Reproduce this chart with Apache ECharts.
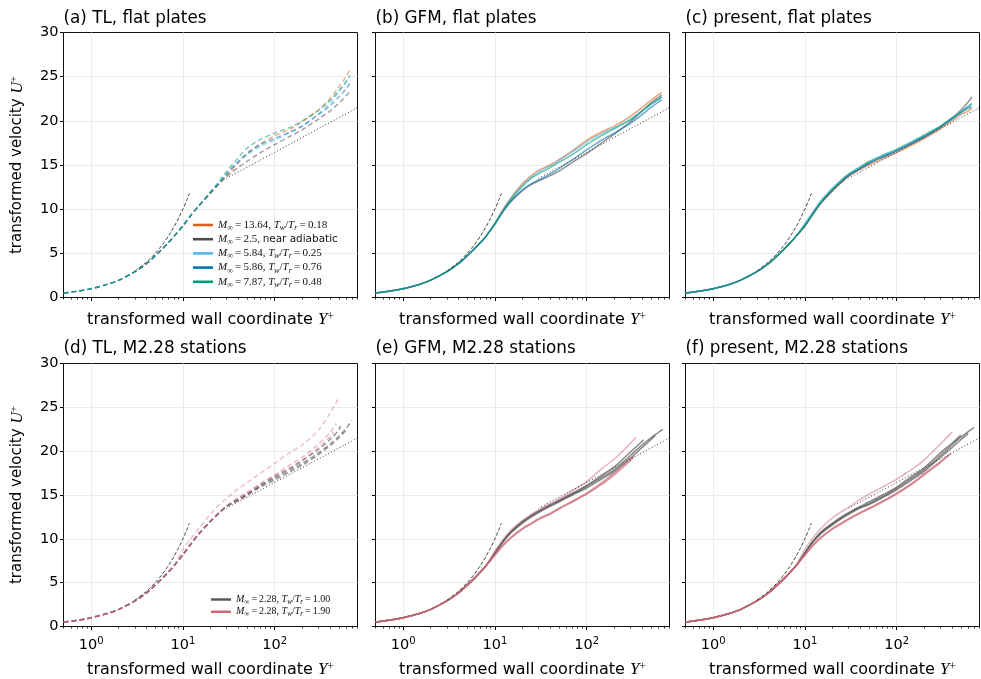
<!DOCTYPE html>
<html>
<head>
<meta charset="utf-8">
<script src="https://cdn.jsdelivr.net/npm/echarts@6/dist/echarts.min.js"></script>
<style>
  html, body { margin: 0; padding: 0; background: #fff; }
  #chart { width: 981px; height: 679px; }
</style>
</head>
<body>
<div id="chart"></div>
<script>
// ---------- profile data: transformed wall coordinate Y+ vs transformed velocity U+ ----------
// viscous sublayer / buffer part shared by all profiles
const innerY = [0.5, 0.7, 1, 1.5, 2, 3, 4, 5, 6, 7, 8];
const innerU = [0.5, 0.7, 1.0, 1.48, 1.96, 2.92, 3.82, 4.72, 5.52, 6.25, 6.92];

// outer sampling stations
const plateY   = [10, 12, 15, 20, 25, 30, 40, 50, 70, 100, 150, 200, 300, 400, 500, 600, 660];
const stationY = [10, 12, 15, 20, 25, 30, 40, 50, 70, 100, 150, 200, 300, 400, 500, 600, 700];

// (a) TL transformation, flat plates
const tlM1364 = [8.1, 9.2, 10.4, 11.8, 12.9, 13.8, 15.2, 16.3, 17.4, 18.3, 19.1, 19.9, 21.2, 22.5, 23.8, 25.0, 25.8];
const tlM25   = [8.1, 9.2, 10.4, 11.8, 12.9, 13.7, 14.7, 15.4, 16.4, 17.3, 18.3, 19.0, 20.2, 21.1, 22.0, 22.8, 23.3];
const tlM584  = [8.1, 9.2, 10.4, 11.9, 13.0, 14.0, 15.3, 16.1, 17.1, 17.8, 18.7, 19.4, 20.8, 22.0, 23.3, 24.5, 25.2];
const tlM586  = [8.1, 9.2, 10.4, 11.9, 13.0, 14.0, 15.4, 16.3, 17.3, 18.0, 18.8, 19.4, 20.7, 21.7, 22.7, 23.6, 24.2];
const tlM787  = [8.1, 9.2, 10.4, 12.0, 13.2, 14.3, 15.8, 16.9, 17.9, 18.6, 19.3, 20.0, 21.2, 22.3, 23.4, 24.4, 25.0];

// (b) GFM transformation, flat plates
const gfmM1364 = [8.4, 9.8, 11.3, 12.9, 13.8, 14.4, 15.0, 15.6, 16.6, 17.8, 18.8, 19.4, 20.5, 21.5, 22.3, 22.9, 23.2];
const gfmM25   = [8.3, 9.6, 10.9, 12.1, 12.8, 13.2, 13.8, 14.3, 15.3, 16.3, 17.6, 18.5, 19.9, 21.1, 22.0, 22.6, 22.9];
const gfmM584  = [8.4, 9.7, 11.2, 12.7, 13.6, 14.2, 14.9, 15.5, 16.5, 17.6, 18.6, 19.2, 20.2, 21.1, 21.8, 22.4, 22.7];
const gfmM586  = [8.3, 9.6, 10.9, 12.2, 12.9, 13.3, 14.0, 14.6, 15.6, 16.7, 17.9, 18.6, 19.7, 20.7, 21.5, 22.1, 22.4];
const gfmM787  = [8.4, 9.7, 11.1, 12.6, 13.5, 14.0, 14.7, 15.3, 16.2, 17.3, 18.4, 19.1, 20.1, 21.1, 21.9, 22.4, 22.7];

// (c) present transformation, flat plates
const prM1364 = [8.1, 9.3, 10.7, 12.1, 13.0, 13.7, 14.5, 15.0, 15.7, 16.4, 17.3, 18.0, 19.1, 20.0, 20.7, 21.1, 21.4];
const prM25   = [8.1, 9.3, 10.7, 12.1, 13.1, 13.8, 14.6, 15.2, 15.9, 16.6, 17.5, 18.2, 19.3, 20.3, 21.2, 22.1, 22.7];
const prM584  = [8.4, 9.6, 11.0, 12.4, 13.3, 13.9, 14.7, 15.3, 16.0, 16.7, 17.6, 18.3, 19.4, 20.3, 21.0, 21.6, 21.9];
const prM586  = [8.2, 9.4, 10.8, 12.2, 13.1, 13.8, 14.6, 15.2, 15.9, 16.6, 17.5, 18.2, 19.3, 20.2, 20.9, 21.4, 21.6];
const prM787  = [8.1, 9.3, 10.8, 12.3, 13.3, 14.0, 14.8, 15.4, 16.1, 16.8, 17.7, 18.4, 19.4, 20.3, 21.0, 21.6, 22.0];

// (d) TL transformation, M2.28 stations (Tw/Tr = 1.00 grey, 1.90 pink)
const tlCold1 = [8.2, 9.3, 10.6, 12.0, 13.0, 13.7, 14.4, 15.0, 16.0, 16.9, 17.9, 18.6, 19.8, 20.8, 21.7, 22.6, 23.5];
const tlCold2 = [8.2, 9.3, 10.6, 12.0, 13.0, 13.7, 14.5, 15.1, 16.1, 17.1, 18.1, 18.9, 20.2, 21.3, 22.4];
const tlCold2End = [520, 22.9];
const tlCold3 = [8.2, 9.3, 10.6, 12.0, 13.0, 13.7, 14.4, 15.0, 15.9, 16.7, 17.7, 18.4, 19.6, 20.6, 21.5, 22.4];
const tlHot1 = [8.8, 9.9, 11.2, 12.8, 13.9, 14.6, 15.7, 16.4, 17.5, 18.6, 19.9, 20.7, 22.4, 24.3];
const tlHot1End = [490, 25.9];
const tlHot2 = [8.2, 9.3, 10.6, 12.0, 13.0, 13.8, 14.7, 15.3, 16.3, 17.3, 18.5, 19.3, 20.8, 22.1];
const tlHot2End = [470, 23.1];
const tlHot3 = [8.2, 9.3, 10.6, 12.0, 13.0, 13.7, 14.6, 15.2, 16.2, 17.1, 18.2, 19.0, 20.4, 21.6];
const tlHot3End = [440, 22.2];

// (e) GFM transformation, M2.28 stations
const gfmCold1 = [8.4, 9.6, 10.8, 11.9, 12.6, 13.1, 13.8, 14.3, 15.1, 16.0, 17.1, 17.9, 19.5, 20.7, 21.5, 22.1];
const gfmCold1End = [680, 22.5];
const gfmCold2 = [8.4, 9.6, 10.8, 12.0, 12.7, 13.2, 13.9, 14.4, 15.2, 16.1, 17.3, 18.2, 19.9];
const gfmCold2End = [420, 21.3];
const gfmCold3 = [8.3, 9.5, 10.7, 11.8, 12.5, 13.0, 13.7, 14.2, 15.0, 15.8, 16.9, 17.7, 19.2, 20.4, 21.3];
const gfmCold3End = [560, 21.8];
const gfmHot1 = [8.6, 9.8, 11.0, 12.1, 12.8, 13.3, 14.0, 14.5, 15.5, 16.5, 18.1, 19.1, 20.9];
const gfmHot1End = [345, 21.6];
const gfmHot2 = [8.2, 9.2, 10.2, 11.2, 11.8, 12.3, 12.9, 13.5, 14.3, 15.2, 16.5, 17.5, 19.1];
const gfmHot2End = [330, 19.5];
const gfmHot3 = [8.1, 9.1, 10.1, 11.1, 11.7, 12.2, 12.8, 13.4, 14.2, 15.1, 16.3, 17.3, 18.9];
const gfmHot3End = [320, 19.3];

// (f) present transformation, M2.28 stations
const prCold1 = [8.4, 9.6, 10.7, 11.7, 12.4, 12.9, 13.6, 14.0, 14.8, 15.75, 17.0, 17.9, 19.5, 20.7, 21.6, 22.2, 22.7];
const prCold2 = [8.4, 9.6, 10.8, 11.8, 12.5, 13.0, 13.7, 14.2, 15.0, 15.9, 17.2, 18.1, 19.8, 20.9, 21.8];
const prCold3 = [8.3, 9.5, 10.6, 11.6, 12.3, 12.8, 13.5, 13.9, 14.7, 15.6, 16.8, 17.7, 19.3, 20.4, 21.3, 22.0];
const prHot1 = [8.8, 10.0, 11.2, 12.4, 13.1, 13.6, 14.5, 15.1, 15.9, 16.8, 18.0, 19.0, 20.8];
const prHot1End = [405, 22.2];
const prHot2 = [8.2, 9.2, 10.2, 11.2, 11.8, 12.3, 13.0, 13.5, 14.3, 15.2, 16.4, 17.4, 18.8];
const prHot2End = [390, 19.7];
const prHot3 = [8.1, 9.1, 10.1, 11.1, 11.7, 12.2, 12.9, 13.4, 14.2, 15.1, 16.3, 17.3, 18.7];
const prHot3End = [370, 19.5];

// reference lines: viscous sublayer U+ = Y+ and log law
const viscY = [3, 4, 5, 6, 7, 8, 9, 10, 11, 11.8];
const viscU = [3, 4, 5, 6, 7, 8, 9, 10, 11, 11.8];
const logLawY = [30, 800];
const logLawU = [13.5, 21.5];

// axis ticks
const xMajorExp = [0, 1, 2];
const xMinorVals = [0.5, 0.6, 0.7, 0.8, 0.9, 2, 3, 4, 5, 6, 7, 8, 9,
                    20, 30, 40, 50, 60, 70, 80, 90, 200, 300, 400, 500, 600, 700, 800];
const X_MIN = 0.5, X_MAX = 800;

const panelTitles = ['(a) TL, flat plates', '(b) GFM, flat plates', '(c) present, flat plates',
                     '(d) TL, M2.28 stations', '(e) GFM, M2.28 stations', '(f) present, M2.28 stations'];

const plateCases = ['M13.64', 'M2.5', 'M5.84', 'M5.86', 'M7.87'];
const plateColors = ['#D9601A', '#4D4D4D', '#56B4E9', '#0072B2', '#009E73'];
const plateLabels = {
  'M13.64': '{i|M}{sb|∞}{n|\u2009=\u200913.64, }{i|T}{si|w}{n|/}{i|T}{si|r}{n|\u2009=\u20090.18}',
  'M2.5':   '{i|M}{sb|∞}{n|\u2009=\u20092.5, }{s|near adiabatic}',
  'M5.84':  '{i|M}{sb|∞}{n|\u2009=\u20095.84, }{i|T}{si|w}{n|/}{i|T}{si|r}{n|\u2009=\u20090.25}',
  'M5.86':  '{i|M}{sb|∞}{n|\u2009=\u20095.86, }{i|T}{si|w}{n|/}{i|T}{si|r}{n|\u2009=\u20090.76}',
  'M7.87':  '{i|M}{sb|∞}{n|\u2009=\u20097.87, }{i|T}{si|w}{n|/}{i|T}{si|r}{n|\u2009=\u20090.48}'
};
const stationCases = ['cold', 'hot'];
const stationColors = ['#555555', '#CC6677'];
const stationLabels = {
  'cold': '{i|M}{sb|∞}{n|\u2009=\u20092.28, }{i|T}{si|w}{n|/}{i|T}{si|r}{n|\u2009=\u20091.00}',
  'hot':  '{i|M}{sb|∞}{n|\u2009=\u20092.28, }{i|T}{si|w}{n|/}{i|T}{si|r}{n|\u2009=\u20091.90}'
};

// ---------- layout ----------
const colLeft = [63.5, 375.5, 685.5];
const rowTop = [32.5, 363.5];
const panelW = 294;
const panelH = [265, 264];

function profile(ys, us, tail) {
  const pts = innerY.map((y, i) => [y, innerU[i]]);
  us.forEach((u, i) => pts.push([ys[i], u]));
  if (tail) pts.push(tail);
  return pts;
}
function pairs(xs, ys) { return xs.map((x, i) => [x, ys[i]]); }

const nameRich = (fs) => ({
  i: { fontFamily: 'Liberation Serif', fontStyle: 'italic', fontSize: fs + 1, color: '#000', lineHeight: 18 },
  p: { fontFamily: 'Liberation Serif', fontSize: fs * 0.72, color: '#000', verticalAlign: 'top', lineHeight: 10 }
});
const gridLine = { show: true, showMinLine: false, showMaxLine: false, lineStyle: { color: '#ebebeb', width: 1 } };

const grids = [], xAxes = [], yAxes = [], titles = [], series = [];

for (let p = 0; p < 6; p++) {
  const r = Math.floor(p / 3), c = p % 3;
  const bottom = r === 1, first = c === 0;
  grids.push({
    left: colLeft[c], top: rowTop[r], width: panelW, height: panelH[r],
    show: true, borderColor: '#111', borderWidth: 1, backgroundColor: 'transparent'
  });
  titles.push({
    text: panelTitles[p], left: colLeft[c], top: bottom ? 340 : 10, padding: 0,
    textStyle: { fontFamily: 'DejaVu Sans', fontSize: 16.8, fontWeight: 'normal', color: '#000' }
  });
  // data axis (log) carrying the vertical grid lines
  xAxes.push({
    type: 'log', logBase: 10, min: X_MIN, max: X_MAX, gridIndex: p, position: 'bottom',
    axisLine: { show: false, onZero: false }, axisTick: { show: false }, axisLabel: { show: false },
    splitLine: gridLine
  });
  // decade ticks and labels
  xAxes.push({
    type: 'value', min: Math.log10(X_MIN), max: Math.log10(X_MAX), gridIndex: p, position: 'bottom',
    axisLine: { show: false, onZero: false },
    axisTick: { show: true, length: 3.5, customValues: xMajorExp, lineStyle: { color: '#000', width: 1 } },
    axisLabel: {
      show: bottom, customValues: xMajorExp, margin: 10,
      formatter: v => '{b|10}{s|' + Math.round(v) + '}',
      rich: {
        b: { fontFamily: 'DejaVu Sans', fontSize: 14.5, color: '#000', lineHeight: 18 },
        s: { fontFamily: 'DejaVu Sans', fontSize: 10, color: '#000', verticalAlign: 'top', lineHeight: 10 }
      }
    },
    splitLine: { show: false },
    name: 'transformed wall coordinate {i|Y}{p|+}',
    nameLocation: 'middle', nameGap: bottom ? 34 : 13,
    nameTextStyle: { fontFamily: 'DejaVu Sans', fontSize: 16, color: '#000', rich: nameRich(16) }
  });
  // minor ticks
  xAxes.push({
    type: 'value', min: Math.log10(X_MIN), max: Math.log10(X_MAX), gridIndex: p, position: 'bottom',
    axisLine: { show: false, onZero: false },
    axisTick: { show: true, length: 2, customValues: xMinorVals.map(Math.log10), lineStyle: { color: '#000', width: 0.8 } },
    axisLabel: { show: false }, splitLine: { show: false }
  });
  yAxes.push({
    type: 'value', min: 0, max: 30, interval: 5, gridIndex: p, position: 'left',
    axisLine: { show: false, onZero: false },
    axisTick: { show: true, length: 3.5, lineStyle: { color: '#000', width: 1 } },
    axisLabel: { show: first, fontFamily: 'DejaVu Sans', fontSize: 14.5, color: '#000', margin: 5 },
    splitLine: gridLine,
    name: first ? 'transformed velocity {i|U}{p|+}' : '',
    nameLocation: 'middle', nameRotate: 90, nameGap: 37,
    nameTextStyle: { fontFamily: 'DejaVu Sans', fontSize: 15, color: '#000', rich: nameRich(15) }
  });
}

function addLine(p, name, data, color, width, type, opacity, z) {
  series.push({
    type: 'line', name: name, xAxisIndex: p * 3, yAxisIndex: p, data: data,
    showSymbol: false, symbol: 'none', smooth: 0.3, silent: true, animation: false,
    lineStyle: { color: color, width: width, type: type, opacity: opacity, cap: 'butt' },
    itemStyle: { color: color }, z: z || 2
  });
}

// flat plates
const platePanels = [
  [tlM1364, tlM25, tlM584, tlM586, tlM787],
  [gfmM1364, gfmM25, gfmM584, gfmM586, gfmM787],
  [prM1364, prM25, prM584, prM586, prM787]
];
platePanels.forEach((set, p) => {
  set.forEach((u, k) => {
    addLine(p, plateCases[k], profile(plateY, u), plateColors[k],
      p === 0 ? 1.4 : 1.5, p === 0 ? [5, 3] : 'solid', p === 0 ? 0.55 : 0.6);
  });
});

// M2.28 stations
const stationPanels = [
  { cold: [[tlCold1], [tlCold2, tlCold2End], [tlCold3]],
    hot: [[tlHot1, tlHot1End, 0.4], [tlHot2, tlHot2End, 0.45], [tlHot3, tlHot3End, 0.45]] },
  { cold: [[gfmCold1, gfmCold1End], [gfmCold2, gfmCold2End], [gfmCold3, gfmCold3End]],
    hot: [[gfmHot1, gfmHot1End, 0.5], [gfmHot2, gfmHot2End, 0.7], [gfmHot3, gfmHot3End, 0.7]] },
  { cold: [[prCold1], [prCold2], [prCold3]],
    hot: [[prHot1, prHot1End, 0.5], [prHot2, prHot2End, 0.7], [prHot3, prHot3End, 0.7]] }
];
stationPanels.forEach((set, k) => {
  const p = k + 3, dashed = k === 0;
  set.cold.forEach(s => addLine(p, 'cold', profile(stationY, s[0], s[1]), stationColors[0],
    1.5, dashed ? [5, 3] : 'solid', dashed ? 0.6 : 0.7));
  set.hot.forEach(s => addLine(p, 'hot', profile(stationY, s[0], s[1]), stationColors[1],
    1.5, dashed ? [5, 3] : 'solid', s[2]));
});

// reference lines on every panel
for (let p = 0; p < 6; p++) {
  addLine(p, 'viscous', pairs(viscY, viscU), '#333', 0.9, [3.5, 2], 1, 3);
  addLine(p, 'loglaw', pairs(logLawY, logLawU), '#333', 1, [1, 2.2], 1, 3);
}

const legendRich = (fs, lh) => ({
  n:  { fontFamily: 'Liberation Serif', fontSize: fs, color: '#111', lineHeight: lh },
  i:  { fontFamily: 'Liberation Serif', fontStyle: 'italic', fontSize: fs, color: '#111', lineHeight: lh },
  sb: { fontFamily: 'Liberation Serif', fontSize: fs * 0.72, color: '#111', lineHeight: lh * 0.5, verticalAlign: 'bottom' },
  si: { fontFamily: 'Liberation Serif', fontStyle: 'italic', fontSize: fs * 0.72, color: '#111', lineHeight: lh * 0.5, verticalAlign: 'bottom' },
  s:  { fontFamily: 'DejaVu Sans', fontSize: fs * 0.95, color: '#111', lineHeight: lh }
});

const option = {
  backgroundColor: '#fff',
  animation: false,
  title: titles,
  grid: grids,
  xAxis: xAxes,
  yAxis: yAxes,
  legend: [
    {
      orient: 'vertical', left: 193, top: 219.5, padding: 0, itemGap: 1.7,
      itemWidth: 20, itemHeight: 2.6, icon: 'rect', selectedMode: false,
      data: plateCases.map((n, k) => ({ name: n, itemStyle: { color: plateColors[k], opacity: 1 } })),
      formatter: n => plateLabels[n],
      textStyle: { rich: legendRich(11, 14) }
    },
    {
      orient: 'vertical', left: 211, top: 594.5, padding: 0, itemGap: 1.4,
      itemWidth: 20, itemHeight: 2.4, icon: 'rect', selectedMode: false,
      data: stationCases.map((n, k) => ({ name: n, itemStyle: { color: stationColors[k], opacity: 1 } })),
      formatter: n => stationLabels[n],
      textStyle: { rich: legendRich(10, 11.7) }
    }
  ],
  series: series
};

const chart = echarts.init(document.getElementById('chart'), null, { renderer: 'canvas' });
chart.setOption(option);
</script>
</body>
</html>
